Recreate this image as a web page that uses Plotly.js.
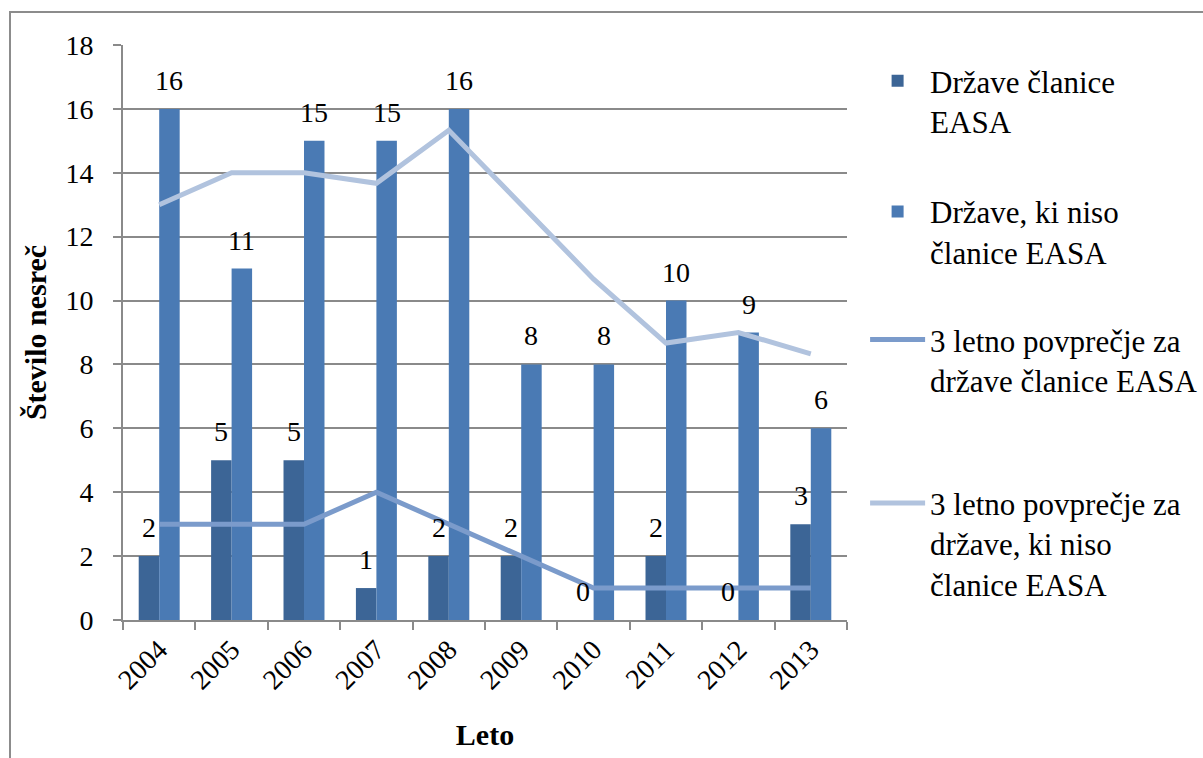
<!DOCTYPE html>
<html>
<head>
<meta charset="utf-8">
<script src="https://cdn.plot.ly/plotly-3.0.1.min.js"></script>
<style>
  html, body { margin: 0; padding: 0; background: #fff; }
  #wrap { position: relative; width: 1203px; height: 758px; overflow: hidden; }
  #chart { width: 1203px; height: 758px; }
  #frame { position: absolute; left: 9px; top: 11px; width: 1300px; height: 800px;
           border-left: 2px solid #8c8c8c; border-top: 2px solid #8c8c8c; pointer-events: none; }
</style>
</head>
<body>
<div id="wrap">
  <div id="chart"></div>
  <div id="frame"></div>
</div>
<script>
const years = ['2004','2005','2006','2007','2008','2009','2010','2011','2012','2013'];
const easaMembers = [2, 5, 5, 1, 2, 2, 0, 2, 0, 3];
const nonMembers = [16, 11, 15, 15, 16, 8, 8, 10, 9, 6];
const avgMembers = [3, 3, 3, 4, 3, 2, 1, 1, 1, 1];
const avgNonMembers = [13, 14, 14, 13.67, 15.33, 13, 10.67, 8.67, 9, 8.33];

const names = [
  'Države članice<br>EASA',
  'Države, ki niso<br>članice EASA',
  '3 letno povprečje za<br>države članice EASA',
  '3 letno povprečje za<br>države, ki niso<br>članice EASA'
];

const serif = 'Liberation Serif';
const darkBar = '#3c6596';
const lightBar = '#4a7ab4';
const lineMid = '#7b9bcb';
const lineLight = '#b1c3de';
const grid = '#8a8a8a';

const traces = [
  { type: 'bar', x: years, y: easaMembers, name: names[0], marker: { color: darkBar },
    legend: 'legend', hoverinfo: 'x+y' },
  { type: 'bar', x: years, y: nonMembers, name: names[1], marker: { color: lightBar },
    legend: 'legend2', hoverinfo: 'x+y' },
  { type: 'scatter', mode: 'lines', x: years, y: avgMembers, name: names[2],
    line: { color: lineMid, width: 5 }, legend: 'legend3' },
  { type: 'scatter', mode: 'lines', x: years, y: avgNonMembers, name: names[3],
    line: { color: lineLight, width: 5 }, legend: 'legend4' }
];

const annotations = [];
years.forEach((yr, i) => {
  annotations.push({ x: i, y: easaMembers[i], text: String(easaMembers[i]), xref: 'x', yref: 'y',
    showarrow: false, yanchor: 'bottom', xshift: -10.25, yshift: 11,
    font: { family: serif, size: 28, color: '#000' } });
  annotations.push({ x: i, y: nonMembers[i], text: String(nonMembers[i]), xref: 'x', yref: 'y',
    showarrow: false, yanchor: 'bottom', xshift: 10.25, yshift: 11,
    font: { family: serif, size: 28, color: '#000' } });
});

function leg(y) {
  return { x: 1.025, y: y, xanchor: 'left', yanchor: 'top', bgcolor: 'rgba(0,0,0,0)',
    valign: 'top', itemwidth: 55,
    font: { family: serif, size: 31, color: '#000' }, itemclick: false, itemdoubleclick: false };
}

const layout = {
  width: 1203, height: 758,
  margin: { l: 123, r: 356, t: 45, b: 138, autoexpand: false },
  paper_bgcolor: '#fff', plot_bgcolor: '#fff',
  barmode: 'group', bargap: 0.434, bargroupgap: 0,
  font: { family: serif, size: 28, color: '#000' },
  xaxis: {
    type: 'category', tickangle: -45, showgrid: false,
    range: [-0.5, years.length - 0.5],
    ticks: 'outside', tickson: 'boundaries', ticklen: 8, tickcolor: grid, tickwidth: 2,
    showline: true, linecolor: grid, linewidth: 2,
    tickfont: { family: serif, size: 28, color: '#000' },
    title: { text: '<b>Leto</b>', font: { family: serif, size: 30, color: '#000' }, standoff: 30 },
    fixedrange: true
  },
  yaxis: {
    range: [0, 18], dtick: 2, tick0: 0,
    showgrid: true, gridcolor: grid, gridwidth: 2,
    ticks: 'outside', ticklen: 8, tickcolor: grid, tickwidth: 2,
    showline: true, linecolor: grid, linewidth: 2, zeroline: false,
    tickfont: { family: serif, size: 28, color: '#000' },
    ticklabelstandoff: 14,
    title: { text: '<b>Število nesreč</b>', font: { family: serif, size: 30, color: '#000' }, standoff: 10 },
    fixedrange: true
  },
  legend: leg(0.984),
  legend2: leg(0.757),
  legend3: leg(0.534),
  legend4: leg(0.250),
  annotations: annotations,
  showlegend: true
};

Plotly.newPlot('chart', traces, layout, { displayModeBar: false });
</script>
</body>
</html>
